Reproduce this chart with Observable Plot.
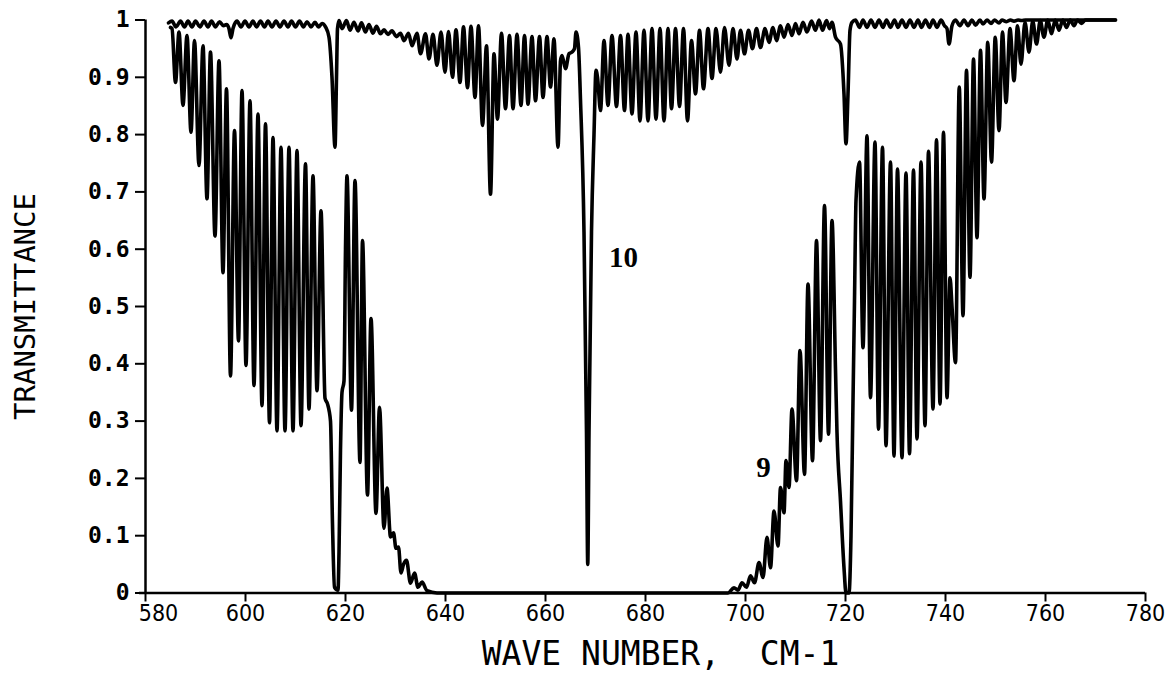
<!DOCTYPE html>
<html><head><meta charset="utf-8">
<script src="https://cdn.jsdelivr.net/npm/d3@7"></script>
<script src="https://cdn.jsdelivr.net/npm/@observablehq/plot@0.6"></script>
<style>body{margin:0;background:#fff}</style>
</head><body><div id="chart"></div>
<script>
// Tick values
const xTicks = [580, 600, 620, 640, 660, 680, 700, 720, 740, 760, 780];
const yTicks = [0, 0.1, 0.2, 0.3, 0.4, 0.5, 0.6, 0.7, 0.8, 0.9, 1];
const xTitle = "WAVE NUMBER,\u00a0\u00a0CM-1";
const yTitle = "TRANSMITTANCE";

// Curve "10" (wave number, transmittance)
const curve10 = [
[584.6,0.995],[585.3,0.998],[586.1,0.988],[587.0,0.998],[587.8,0.988],[588.5,0.998],[589.3,0.988],[590.0,0.998],[590.9,0.988],[591.7,0.998],[592.5,0.988],[593.2,0.998],[594.0,0.988],[594.8,0.997],[595.6,0.99],[596.2,0.992],[596.7,0.985],[597.1,0.969],[597.5,0.985],[598.3,0.998],[599.1,0.988],[599.9,0.998],[600.7,0.988],[601.5,0.998],[602.2,0.988],[603.0,0.998],[603.8,0.988],[604.5,0.998],[605.3,0.988],[606.1,0.998],[606.9,0.988],[607.7,0.998],[608.5,0.988],[609.2,0.998],[610.0,0.988],[610.8,0.998],[611.6,0.988],[612.3,0.997],[613.1,0.988],[613.9,0.996],[614.6,0.988],[615.3,0.994],[616.0,0.988],[616.7,0.97],[617.3,0.9],[617.9,0.778],[618.2,0.9],[618.4,0.985],[618.7,0.999],[619.3,0.985],[620.2,0.999],[620.9,0.982],[621.7,0.996],[622.5,0.981],[623.2,0.995],[624.0,0.979],[624.7,0.992],[625.5,0.977],[626.2,0.989],[627.0,0.976],[627.7,0.983],[628.5,0.975],[629.3,0.981],[630.2,0.971],[631.0,0.977],[631.7,0.964],[632.6,0.977],[633.3,0.955],[634.3,0.977],[635.0,0.941],[636.0,0.976],[636.7,0.932],[637.5,0.975],[638.3,0.921],[639.1,0.979],[639.9,0.909],[640.6,0.98],[641.4,0.9],[642.1,0.983],[642.9,0.891],[643.6,0.988],[644.4,0.882],[645.1,0.989],[645.9,0.865],[646.6,0.99],[647.4,0.816],[648.2,0.955],[649.0,0.696],[649.7,0.941],[650.4,0.827],[651.2,0.977],[652.0,0.845],[652.8,0.973],[653.5,0.845],[654.3,0.975],[655.1,0.851],[655.8,0.973],[656.5,0.853],[657.3,0.971],[658.0,0.859],[658.8,0.971],[659.5,0.865],[660.3,0.971],[661.0,0.883],[661.7,0.967],[662.5,0.778],[663.0,0.929],[663.3,0.938],[664.0,0.915],[664.7,0.941],[665.3,0.944],[665.8,0.95],[666.1,0.979],[666.6,0.952],[667.0,0.86],[667.7,0.63],[668.2,0.28],[668.45,0.05],[668.7,0.28],[669.2,0.63],[669.7,0.8],[670.1,0.912],[670.4,0.9],[671.0,0.842],[671.7,0.964],[672.5,0.851],[673.3,0.973],[674.2,0.849],[675.0,0.973],[675.8,0.842],[676.5,0.975],[677.3,0.836],[678.1,0.979],[678.9,0.824],[679.7,0.982],[680.5,0.824],[681.3,0.985],[682.1,0.827],[682.9,0.985],[683.7,0.824],[684.5,0.985],[685.2,0.845],[686.0,0.985],[686.8,0.849],[687.6,0.985],[688.4,0.824],[689.2,0.964],[690.0,0.871],[690.8,0.982],[691.6,0.88],[692.5,0.985],[693.3,0.898],[694.1,0.985],[695.0,0.909],[695.8,0.987],[696.7,0.921],[697.5,0.985],[698.3,0.932],[699.0,0.982],[699.8,0.941],[700.6,0.982],[701.4,0.95],[702.2,0.985],[703.0,0.952],[703.9,0.985],[704.7,0.961],[705.5,0.987],[706.2,0.964],[707.0,0.99],[707.7,0.97],[708.5,0.992],[709.3,0.973],[710.0,0.994],[710.7,0.976],[711.5,0.996],[712.3,0.979],[713.2,0.998],[714.0,0.982],[714.7,1.0],[715.4,0.982],[716.2,0.999],[716.8,0.985],[717.3,0.996],[718.0,0.97],[719.0,0.958],[719.7,0.871],[720.1,0.784],[720.5,0.871],[720.9,0.982],[721.3,0.996],[722.0,1.0],[722.8,0.987],[723.5,1.0],[724.3,0.987],[725.1,1.0],[725.9,0.987],[726.7,1.0],[727.5,0.987],[728.2,1.0],[729.0,0.987],[729.8,1.0],[730.5,0.987],[731.3,1.0],[732.1,0.987],[732.9,1.0],[733.7,0.987],[734.5,1.0],[735.2,0.987],[736.0,1.0],[736.8,0.987],[737.5,1.0],[738.3,0.987],[739.1,1.0],[739.8,0.99],[740.3,0.985],[740.7,0.958],[741.3,0.99],[742.0,1.0],[742.9,0.99],[743.7,1.0],[744.5,0.99],[745.3,1.0],[746.0,0.991],[746.9,1.0],[747.5,0.993],[748.3,1.0],[749.1,0.994],[749.8,1.0],[750.7,0.995],[751.3,1.0],[752.2,0.997],[753.0,1.0],[753.7,0.998],[754.5,1.0],[755.2,0.999],[756.0,1.0],[774.0,1.0]
];

// Curve "9" (wave number, transmittance)
const curve9 = [
[585.0,0.987],[585.3,0.985],[586.0,0.891],[586.7,0.979],[587.5,0.851],[588.3,0.973],[589.1,0.804],[589.8,0.964],[590.7,0.746],[591.5,0.955],[592.3,0.688],[593.0,0.944],[593.9,0.623],[594.7,0.929],[595.5,0.559],[596.2,0.88],[597.0,0.379],[597.8,0.807],[598.6,0.44],[599.3,0.877],[600.1,0.397],[600.9,0.859],[601.7,0.362],[602.5,0.836],[603.3,0.327],[604.0,0.819],[604.8,0.297],[605.5,0.795],[606.3,0.283],[607.1,0.778],[607.9,0.283],[608.7,0.778],[609.5,0.283],[610.3,0.772],[611.1,0.292],[612.0,0.749],[612.7,0.321],[613.5,0.728],[614.3,0.353],[615.1,0.667],[615.9,0.34],[616.4,0.33],[617.0,0.3],[617.4,0.12],[617.8,0.01],[618.5,0.005],[618.7,0.07],[619.0,0.25],[619.3,0.35],[619.7,0.37],[620.0,0.6],[620.3,0.728],[621.2,0.319],[621.9,0.72],[622.9,0.228],[623.4,0.615],[624.4,0.171],[625.1,0.479],[626.1,0.139],[626.8,0.324],[627.7,0.113],[628.3,0.183],[629.0,0.098],[629.6,0.105],[630.1,0.078],[630.6,0.08],[631.1,0.035],[631.6,0.05],[632.2,0.057],[633.0,0.017],[633.8,0.035],[634.5,0.01],[635.3,0.019],[636.3,0.004],[638.3,0.0],[696.5,0.0],[697.7,0.009],[698.5,0.005],[699.3,0.018],[700.2,0.01],[701.0,0.03],[701.8,0.018],[702.7,0.053],[703.5,0.027],[704.3,0.097],[705.0,0.044],[705.7,0.143],[706.5,0.082],[707.0,0.184],[707.7,0.14],[708.1,0.231],[708.7,0.184],[709.3,0.321],[710.2,0.196],[710.9,0.423],[711.8,0.207],[712.5,0.539],[713.4,0.231],[714.2,0.615],[715.0,0.266],[715.8,0.676],[716.6,0.277],[717.3,0.65],[718.0,0.39],[718.3,0.28],[719.0,0.16],[719.7,0.044],[720.1,0.0],[720.7,0.0],[721.1,0.1],[721.5,0.335],[721.8,0.51],[722.1,0.685],[722.8,0.752],[723.5,0.428],[724.3,0.798],[725.0,0.341],[725.9,0.787],[726.6,0.286],[727.4,0.778],[728.1,0.257],[729.0,0.752],[729.7,0.239],[730.4,0.74],[731.3,0.236],[732.1,0.733],[732.8,0.243],[733.6,0.738],[734.3,0.269],[735.1,0.752],[735.9,0.292],[736.6,0.771],[737.5,0.321],[738.2,0.791],[738.9,0.33],[739.6,0.804],[740.3,0.341],[740.9,0.55],[741.3,0.5],[742.0,0.402],[742.75,0.883],[743.5,0.484],[744.2,0.912],[744.9,0.551],[745.6,0.932],[746.3,0.62],[747.0,0.947],[747.7,0.688],[748.45,0.961],[749.2,0.752],[749.95,0.97],[750.7,0.807],[751.4,0.979],[752.1,0.856],[752.9,0.985],[753.7,0.894],[754.4,0.99],[755.1,0.923],[755.9,0.996],[756.7,0.944],[757.45,0.998],[758.2,0.958],[758.95,0.999],[759.7,0.97],[760.45,1.0],[761.2,0.976],[761.95,1.0],[762.7,0.982],[763.45,1.0],[764.2,0.987],[764.95,1.0],[765.7,0.99],[766.4,1.0],[767.2,0.994],[768.0,1.0],[774.0,1.0]
];

// Curve labels
const labelText = ["10", "9"];
const labelX = [675.6, 703.6];
const labelY = [0.585, 0.218];

const rows10 = curve10.map(([x, y]) => ({x, y}));
const rows9 = curve9.map(([x, y]) => ({x, y}));
const labels = labelText.map((t, i) => ({text: t, x: labelX[i], y: labelY[i]}));
const fmtY = d => (d === 0 ? "0" : d === 1 ? "1" : d.toFixed(1));

const lineOpts = {x: "x", y: "y", stroke: "#000", strokeWidth: 3.6, curve: "monotone-x", strokeLinejoin: "round", strokeLinecap: "round"};

const chart = Plot.plot({
  width: 1170,
  height: 677,
  marginLeft: 145,
  marginRight: 25,
  marginTop: 19.5,
  marginBottom: 84.5,
  style: {background: "#fff", color: "#000"},
  x: {domain: [580, 780]},
  y: {domain: [0, 1]},
  marks: [
    Plot.line(rows9, lineOpts),
    Plot.line(rows10, lineOpts),
    Plot.ruleX([580], {y1: 0, y2: 1, stroke: "#000", strokeWidth: 2.5}),
    Plot.ruleY([0], {x1: 578.8, x2: 780, stroke: "#000", strokeWidth: 2.5}),
    Plot.axisY(yTicks, {tickSize: 10, tickPadding: 6, strokeWidth: 2, tickFormat: fmtY, fontSize: 23, fontFamily: "DejaVu Sans Mono", fontWeight: "bold", label: null}),
    Plot.axisX(xTicks, {tickSize: 9, strokeWidth: 2, tickFormat: () => "", label: null}),
    Plot.axisX(xTicks.slice(1), {tickSize: 0, tickPadding: 12, fontSize: 23, fontFamily: "DejaVu Sans Condensed", label: null}),
    Plot.axisX([580], {tickSize: 0, tickPadding: 12, dx: 13, fontSize: 23, fontFamily: "DejaVu Sans Condensed", label: null}),
    Plot.text([yTitle], {text: d => d, frameAnchor: "left", textAnchor: "middle", dx: -120, rotate: -90, fontSize: 29, fontFamily: "DejaVu Sans Mono", fill: "#000"}),
    Plot.text([xTitle], {text: d => d, frameAnchor: "bottom", dy: 72, dx: 15, fontSize: 33, fontFamily: "DejaVu Sans Mono", fill: "#000"}),
    Plot.text(labels, {x: "x", y: "y", text: "text", fontSize: 29, fontFamily: "Liberation Serif", fontWeight: "bold", fill: "#000"})
  ]
});
document.getElementById("chart").appendChild(chart);
</script>
</body></html>
